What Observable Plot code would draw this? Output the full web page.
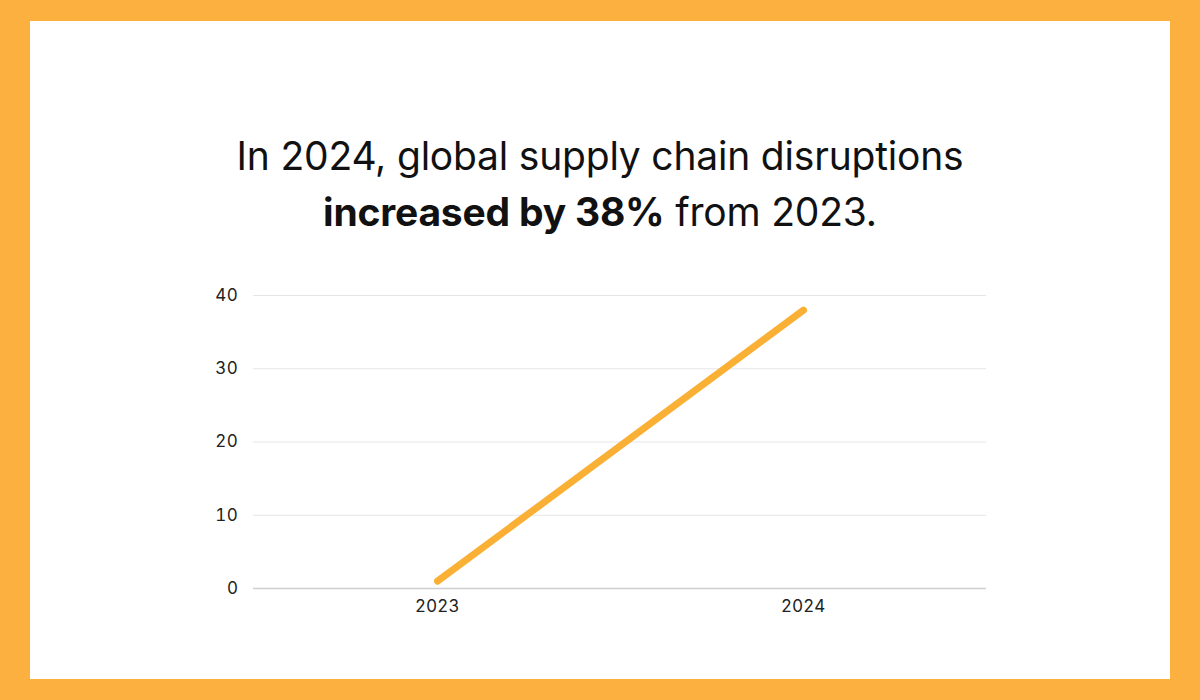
<!DOCTYPE html>
<html>
<head>
<meta charset="utf-8">
<script src="https://cdn.jsdelivr.net/npm/d3@7"></script>
<script src="https://cdn.jsdelivr.net/npm/@observablehq/plot@0.6"></script>
<style>
  html, body { margin: 0; padding: 0; }
  body { width: 1200px; height: 700px; background: #FBB03F; position: relative; overflow: hidden; font-family: Inter, "Noto Sans", sans-serif; }
  #panel { position: absolute; left: 30px; top: 21px; width: 1140px; height: 658px; background: #ffffff; }
  #title { position: absolute; left: 0; top: 128px; width: 1200px; text-align: center; font-size: 39px; line-height: 56px; color: #111; letter-spacing: -0.2px; }
  #title b { font-weight: 700; }
  #chart { position: absolute; left: 0; top: 270px; }
</style>
</head>
<body>
<div id="panel"></div>
<div id="title">In 2024, global supply chain disruptions<br><b>increased by 38%</b> from 2023.</div>
<div id="chart"></div>
<script>
const years = ["2023", "2024"];
const values = [1, 38];
const yTicks = [0, 10, 20, 30, 40];

const data = years.map((y, i) => ({year: y, value: values[i]}));

const chart = Plot.plot({
  width: 1200,
  height: 360,
  marginLeft: 253,
  marginRight: 214,
  marginTop: 25,
  marginBottom: 42,
  style: {fontFamily: "Inter, 'Noto Sans', sans-serif", fontSize: "17px", color: "#222", background: "transparent", letterSpacing: "0.6px"},
  x: {type: "point", domain: years, padding: 0.5, label: null, tickSize: 0, tickPadding: 11},
  y: {domain: [0, 40], ticks: yTicks, label: null, tickSize: 0, tickPadding: 15},
  marks: [
    Plot.ruleY(yTicks.filter(d => d !== 0), {stroke: "#e6e6e6", strokeWidth: 1}),
    Plot.ruleY([0], {stroke: "#cfcfcf", strokeWidth: 1.5}),
    Plot.lineY(data, {x: "year", y: "value", stroke: "#F9B035", strokeWidth: 7, strokeLinecap: "round"})
  ]
});
document.getElementById("chart").appendChild(chart);
</script>
</body>
</html>
